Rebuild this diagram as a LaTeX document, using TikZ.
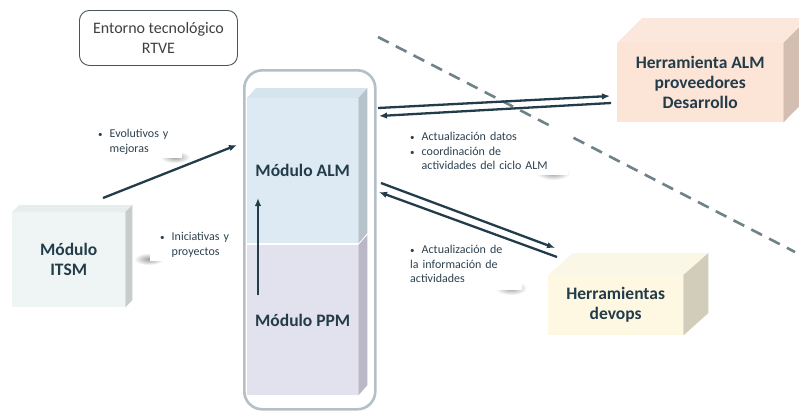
\documentclass[tikz,border=0pt]{standalone}
\usepackage{fontspec}
\setmainfont{Carlito}
\usetikzlibrary{arrows.meta}

\definecolor{ink}{RGB}{35,60,74}
\definecolor{notetext}{RGB}{45,66,80}
\definecolor{framegrey}{RGB}{180,192,198}
\definecolor{cutline}{RGB}{110,130,136}
\definecolor{almfront}{RGB}{222,234,243}
\definecolor{almtop}{RGB}{214,228,237}
\definecolor{almside}{RGB}{182,195,203}
\definecolor{ppmfront}{RGB}{226,225,238}
\definecolor{ppmside}{RGB}{186,183,198}
\definecolor{itsmfront}{RGB}{238,245,244}
\definecolor{itsmtop}{RGB}{230,238,237}
\definecolor{itsmside}{RGB}{198,205,203}
\definecolor{herrfront}{RGB}{252,228,214}
\definecolor{herrtop}{RGB}{251,231,220}
\definecolor{herrside}{RGB}{212,190,178}
\definecolor{devfront}{RGB}{254,248,227}
\definecolor{devtop}{RGB}{251,247,230}
\definecolor{devside}{RGB}{210,205,186}

\newcommand{\boldlab}{\fontsize{17.5}{20}\selectfont\bfseries}
\newcommand{\notefont}{\fontsize{12}{14.5}\selectfont}
\newcommand{\bul}{\makebox[11.5pt][l]{\fontsize{9}{9}\selectfont •}}
\newcommand{\cont}{\hspace*{11.5pt}}

\begin{document}
\begin{tikzpicture}[x=1pt,y=-1pt,
  face/.style={draw=none, inner sep=0pt, anchor=north west, font=\boldlab,
    text=ink, align=center},
  flow/.style={draw=ink, line width=2.3pt, -{Latex[length=8pt,width=6.5pt]}},
  note/.style={fill=white, inner xsep=10pt, inner ysep=0pt, font=\notefont,
    text=notetext, align=left, anchor=north west},
  smudge/.style={inner color=black!38, outer color=white}]
\clip (0,0) rectangle (799,410);
\fill[white] (0,0) rectangle (799,410);

% title box
\node[draw={rgb,255:red,72;green,85;blue,92}, line width=0.9pt, rounded corners=10pt,
  minimum width=158pt, minimum height=55pt, anchor=north west,
  font=\fontsize{16}{20}\selectfont, text={rgb,255:red,64;green,64;blue,64},
  align=center] (env) at (79,10) {Entorno tecnológico\\RTVE};

% dashed boundary
\coordinate (cutA) at (378,37);
\coordinate (cutB) at (795,252);
\draw[cutline, line width=2.6pt, dash pattern=on 12pt off 8pt] (cutA) -- (cutB);

% column frame holding ALM and PPM
\node[draw=framegrey, line width=2.6pt, fill=white, rounded corners=18pt,
  minimum width=131pt, minimum height=339pt, anchor=north west] (column) at (243,69) {};

% ALM module
\node[face, fill=almfront, minimum width=111pt, minimum height=145pt] (alm) at (247,98) {Módulo ALM};
\fill[almtop] (alm.north west) -- ++(9,-10) -- ++(111,0) -- (alm.north east) -- cycle;
\fill[almside] (alm.north east) -- ++(9,-10) -- ++(0,145) -- (alm.south east) -- cycle;

% PPM module
\node[face, fill=ppmfront, minimum width=111pt, minimum height=150pt] (ppm) at (247,245) {Módulo PPM};
\fill[ppmside] (ppm.north east) -- ++(9,-10) -- ++(0,150) -- (ppm.south east) -- cycle;

% ITSM module
\node[face, fill=itsmfront, minimum width=113pt, minimum height=95pt] (itsm) at (12,212) {Módulo\\ITSM};
\fill[itsmtop] (itsm.north west) -- ++(7,-7) -- ++(113,0) -- (itsm.north east) -- cycle;
\fill[itsmside] (itsm.north east) -- ++(7,-7) -- ++(0,95) -- (itsm.south east) -- cycle;

% ALM tool of development suppliers
\node[face, fill=herrfront, minimum width=166pt, minimum height=79pt] (herr) at (617,43) {Herramienta ALM\\proveedores\\Desarrollo};
\fill[herrtop] (herr.north west) -- ++(25,-25) -- ++(166,0) -- (herr.north east) -- cycle;
\fill[herrside] (herr.north east) -- ++(25,-25) -- ++(0,79) -- (herr.south east) -- cycle;

% devops tools
\node[face, fill=devfront, minimum width=135pt, minimum height=60pt] (devops) at (548,275) {Herramientas\\devops};
\fill[devtop] (devops.north west) -- ++(25,-22) -- ++(135,0) -- (devops.north east) -- cycle;
\fill[devside] (devops.north east) -- ++(25,-22) -- ++(0,60) -- (devops.south east) -- cycle;

% soft shadows under the note cards
\shade[smudge] (175,157) ellipse (15 and 6);
\shade[smudge] (149,259) ellipse (15 and 6);
\shade[smudge] (553,173) ellipse (17 and 7);
\shade[smudge] (511,288) ellipse (16 and 7);

% note cards
\node[note, text width=74pt, minimum height=33pt] (nEvo) at (88,125)
  {\bul Evolutivos y\\\cont mejoras};
\node[note, text width=72pt, minimum height=33pt] (nIni) at (150,228)
  {\bul Iniciativas y\\\cont proyectos};
\node[note, text width=145pt, minimum height=48pt, inner xsep=13pt] (nAlm) at (397,127)
  {\bul Actualización datos\\\bul coordinación de\\\cont actividades del ciclo ALM};
\node[note, text width=100pt, minimum height=52pt, inner xsep=12pt] (nDev) at (398,238)
  {\bul Actualización de\\la información de\\actividades};

% connectors
\coordinate (itsmOut) at (103,198);
\coordinate (almInL) at (237,145);
\draw[flow] (itsmOut) -- (almInL);

\coordinate (ppmUp) at (258,295);
\coordinate (almUp) at (258,198);
\draw[flow] (ppmUp) -- (almUp);

\coordinate (almR1) at (378,108);
\coordinate (herrL1) at (610,96);
\coordinate (herrL2) at (611,103);
\coordinate (almR2) at (379,116);
\draw[flow] (almR1) -- (herrL1);
\draw[flow] (herrL2) -- (almR2);

\coordinate (almR3) at (381,183);
\coordinate (devL1) at (555,248);
\coordinate (devL2) at (557,257);
\coordinate (almR4) at (379,192);
\draw[flow] (almR3) -- (devL1);
\draw[flow] (devL2) -- (almR4);
\end{tikzpicture}
\end{document}
